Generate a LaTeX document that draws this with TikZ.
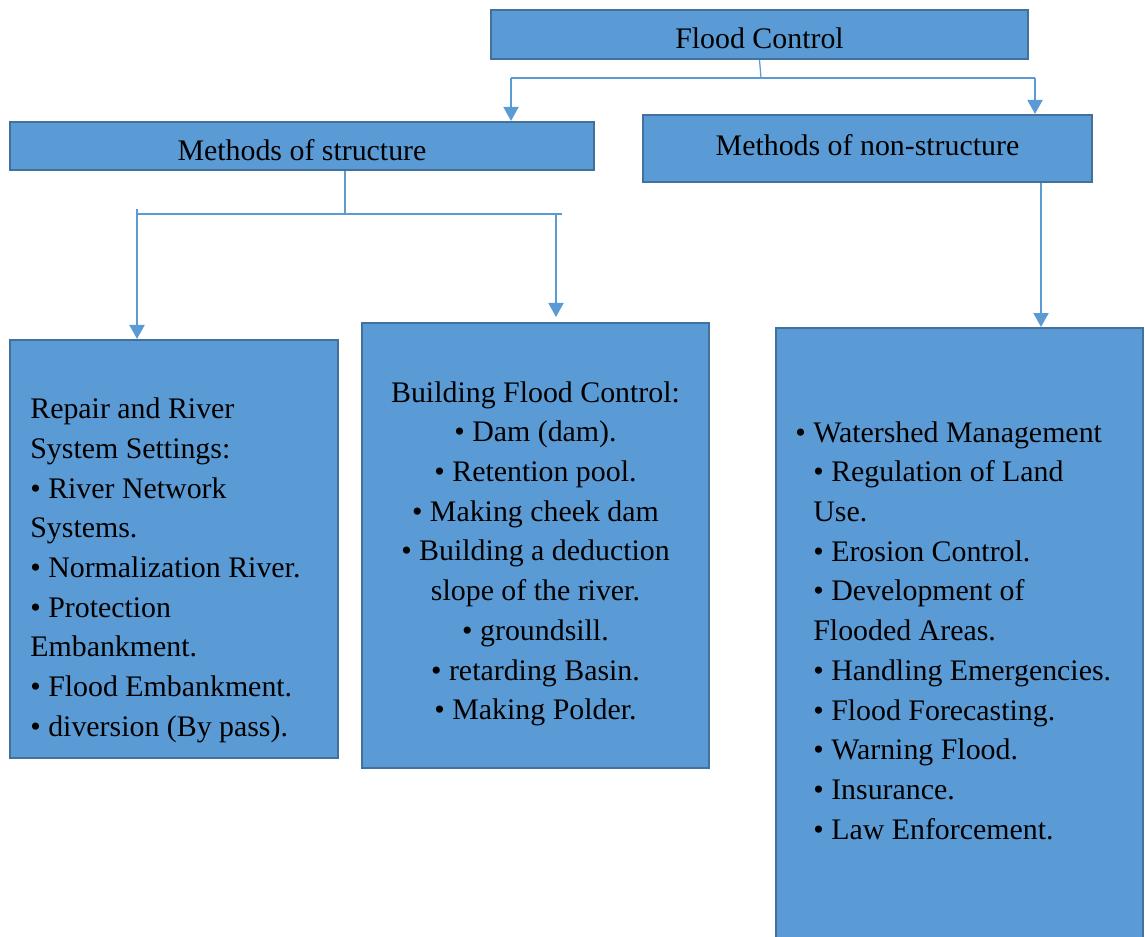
\documentclass[tikz,border=0pt]{standalone}
\usepackage{fontspec}
\setmainfont{Liberation Serif}
\usetikzlibrary{arrows.meta}
\definecolor{boxfill}{RGB}{91,155,213}
\definecolor{boxline}{RGB}{65,113,156}
\definecolor{linkcol}{RGB}{91,155,213}

\begin{document}
\begin{tikzpicture}[
    x=0.02cm, y=-0.02cm,
    >={Triangle[width=0.3cm, length=0.28cm]},
    txt/.style={font=\fontsize{17}{22.6}\selectfont, inner sep=0pt},
    box/.style={txt, rectangle, draw=boxline, fill=boxfill, line width=1.2pt},
    link/.style={linkcol, line width=1.1pt},
    arr/.style={link, ->},
]

\clip (0,0) rectangle (1145,936);

%--- Header boxes ---
\node[box, minimum width=10.74cm, minimum height=0.98cm, text height=16.1pt, text depth=0pt] (flood) at (759.5,34.5) {Flood Control};
\node[box, minimum width=11.68cm, minimum height=0.96cm, text height=16.1pt, text depth=0pt] (struct) at (302,146) {Methods of structure};
\node[box, minimum width=8.98cm, minimum height=1.34cm, text height=11.6pt, text depth=4pt] (nonstruct) at (867.5,148.5) {Methods of non-structure};

%--- Content boxes ---
\node[box, minimum width=6.56cm, minimum height=8.36cm] (repair) at (174,549) {};
\node[box, minimum width=6.94cm, minimum height=8.9cm] (building) at (535.5,545.5) {};
\node[box, minimum width=7.34cm, minimum height=12.44cm] (nonbox) at (959.5,639) {};

%--- Box texts ---
\node[txt, anchor=north west, align=left] (repairtxt) at (30,397.5)
    {Repair and River\\System Settings:\\• River Network\\Systems.\\• Normalization River.\\• Protection\\Embankment.\\• Flood Embankment.\\• diversion (By pass).};
\node[txt, anchor=north, align=center] (buildtxt) at (535.5,381)
    {Building Flood Control:\\• Dam (dam).\\• Retention pool.\\• Making cheek dam\\• Building a deduction\\slope of the river.\\• groundsill.\\• retarding Basin.\\• Making Polder.};
\node[txt, anchor=north west, align=left] (nonstxt) at (813,421)
    {\hspace*{-0.36cm}• Watershed Management\\• Regulation of Land\\Use.\\• Erosion Control.\\• Development of\\Flooded Areas.\\• Handling Emergencies.\\• Flood Forecasting.\\• Warning Flood.\\• Insurance.\\• Law Enforcement.};

%--- Connectors from Flood Control ---
\coordinate (fcL) at (511,78);
\coordinate (fcR) at (1035,78);
\coordinate (fcM) at (761,78);
\draw[link, line width=0.7pt] (flood.south) -- (fcM);
\draw[link, line width=0.7pt] (fcL) -- (fcR);
\draw[arr] (fcL) -- (fcL |- struct.north);
\draw[arr] (fcR) -- (fcR |- nonstruct.north);

%--- Connectors from Methods of structure ---
\coordinate (stM) at (345,213);
\coordinate (stL) at (137,214);
\coordinate (stR) at (562,214);
\coordinate (stLtop) at (137,209);
\coordinate (stRdown) at (556,214);
\draw[link] (stM |- struct.south) -- (stM);
\draw[link] (stL) -- (stR);
\draw[arr] (stLtop) -- (stLtop |- repair.north);
\draw[arr, shorten >=0.1cm] (stRdown) -- (stRdown |- building.north);

%--- Connector from Methods of non-structure ---
\coordinate (nsD) at (1041,250);
\draw[arr] (nsD |- nonstruct.south) -- (nsD |- nonbox.north);

\end{tikzpicture}
\end{document}
